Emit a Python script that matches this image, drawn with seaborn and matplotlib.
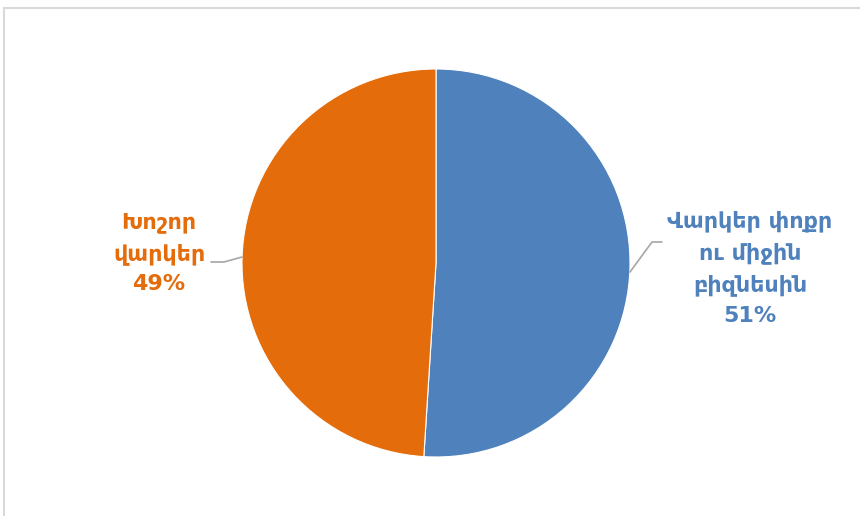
import matplotlib
matplotlib.use("Agg")
import matplotlib.pyplot as plt
import seaborn as sns
from matplotlib.patches import Rectangle

categories = ["Վարկեր փոքր\nու միջին\nբիզնեսին", "Խոշոր\nվարկեր"]
values = [51, 49]
colors = ["#4F81BD", "#E46C0A"]

sns.set_theme(style="white")
plt.rcParams['font.family'] = ['DejaVu Sans']

W, H = 860, 516
fig = plt.figure(figsize=(W/100, H/100), dpi=100)
fig.patch.set_facecolor("white")

# frame border (right and bottom edges run off the image)
fig.add_artist(Rectangle((4/W, -0.1), 1.2, 1.1 - 8/H, transform=fig.transFigure,
                         fill=False, edgecolor="#D9D9D9", linewidth=1.5))

cx, cy, r = 436, 263, 194
ax = fig.add_axes([(cx - r)/W, (H - cy - r)/H, 2*r/W, 2*r/H])
wedges, _ = ax.pie(values, colors=colors, startangle=90, counterclock=False,
                   radius=1, wedgeprops=dict(edgecolor="white", linewidth=0.8))
ax.set_xlim(-1, 1)
ax.set_ylim(-1, 1)
ax.set_aspect("auto")
ax.axis("off")

def px(x, y):
    return ((x - cx)/r, (cy - y)/r)

# labels
bx, by = px(750, 268)
ax.text(bx, by, f"{categories[0]}\n{values[0]}%", ha="center", va="center",
        fontsize=16, fontweight="bold", color=colors[0], linespacing=1.6,
        clip_on=False)
ox, oy = px(159, 253)
ax.text(ox, oy, f"{categories[1]}\n{values[1]}%", ha="center", va="center",
        fontsize=16, fontweight="bold", color=colors[1], linespacing=1.6,
        clip_on=False)

# leader lines
p = [px(630, 272), px(652, 242), px(662, 242)]
ax.plot([q[0] for q in p], [q[1] for q in p], color="#A6A6A6", lw=1.2, clip_on=False)
p = [px(242, 257), px(224, 262), px(211, 262)]
ax.plot([q[0] for q in p], [q[1] for q in p], color="#A6A6A6", lw=1.2, clip_on=False)

fig.savefig("out.png", dpi=100, facecolor="white")
